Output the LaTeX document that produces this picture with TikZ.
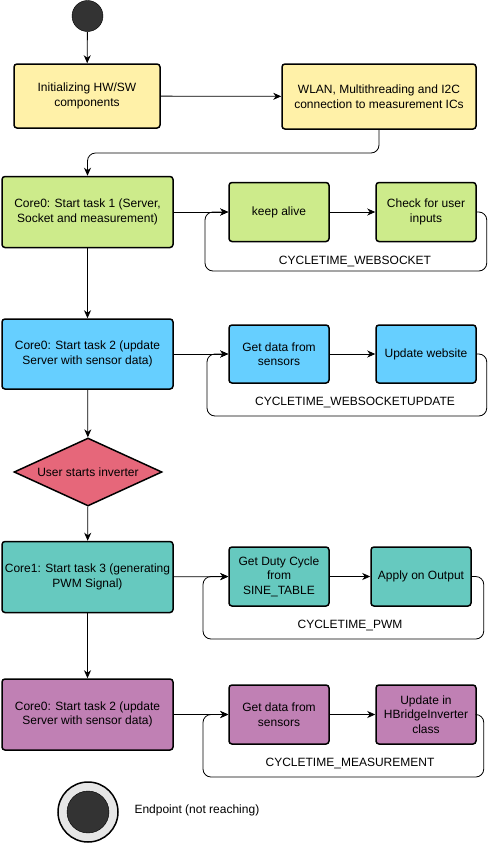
\documentclass[tikz,border=0pt]{standalone}
\usepackage{fontspec}
\setmainfont{Liberation Sans}
\usetikzlibrary{arrows.meta,shapes.geometric}
\definecolor{initcol}{HTML}{FFF1A8}
\definecolor{task1col}{HTML}{CDEB8B}
\definecolor{task2col}{HTML}{66CFFF}
\definecolor{usercol}{HTML}{E6677A}
\definecolor{task3col}{HTML}{66C9BF}
\definecolor{task4col}{HTML}{C080B4}
\definecolor{darkfill}{HTML}{333333}
\definecolor{lightfill}{HTML}{E6E6E6}

\begin{document}
\begin{tikzpicture}[x=1pt,y=-1pt,
  font=\fontsize{12}{14.5}\selectfont,
  box/.style={draw, line width=1.5pt, rounded corners=3pt, align=center, inner sep=0pt},
  bigbox/.style={box, minimum width=171pt, minimum height=71pt},
  smallbox/.style={box, minimum width=100pt, minimum height=59pt},
  arr/.style={-{Stealth[length=8pt,width=7pt,inset=2.5pt]}, line width=0.8pt},
  loopline/.style={arr, rounded corners=8pt}]
  \useasboundingbox (0,0) rectangle (495,844);
  % start and init
  \node[circle, fill=darkfill, draw=black, minimum size=31pt, inner sep=0pt] (start) at (87.5,16) {};
  \node[box, fill=initcol, minimum width=146pt, minimum height=64pt] (init) at (87,96) {Initializing HW/SW\\components};
  \node[box, fill=initcol, minimum width=194pt, minimum height=65pt] (wlan) at (379,96.5) {WLAN, Multithreading and I2C\\connection to measurement ICs};
  % task 1
  \node[bigbox, fill=task1col] (task1) at (87.5,212) {Core0: Start task 1 (Server,\\Socket and measurement)};
  \node[smallbox, fill=task1col] (alive) at (279,212) {keep alive};
  \node[smallbox, fill=task1col] (inputs) at (426,212) {Check for user\\inputs};
  \node (cyc1) at (355,261) {CYCLETIME\_WEBSOCKET};
  % task 2
  \node[bigbox, fill=task2col, minimum height=70pt] (task2) at (87.5,354) {Core0: Start task 2 (update\\Server with sensor data)};
  \node[smallbox, fill=task2col, minimum height=58pt] (sensors1) at (279,354) {Get data from\\sensors};
  \node[smallbox, fill=task2col, minimum height=58pt] (website) at (426,354) {Update website};
  \node (cyc2) at (355,402) {CYCLETIME\_WEBSOCKETUPDATE};
  % user decision
  \node[diamond, draw, line width=1.5pt, fill=usercol, aspect=2.2, inner sep=0pt,
        minimum width=148pt, minimum height=68pt] (user) at (88,472) {User starts inverter};
  % task 3
  \node[bigbox, fill=task3col] (task3) at (87.5,577) {Core1: Start task 3 (generating\\PWM Signal)};
  \node[smallbox, fill=task3col] (duty) at (279,576.5) {Get Duty Cycle\\from\\SINE\_TABLE};
  \node[smallbox, fill=task3col] (output) at (421,576.5) {Apply on Output};
  \node (cyc3) at (350,625) {CYCLETIME\_PWM};
  % task 4
  \node[bigbox, fill=task4col] (task4) at (87.5,714.5) {Core0: Start task 2 (update\\Server with sensor data)};
  \node[smallbox, fill=task4col] (sensors2) at (279,714.5) {Get data from\\sensors};
  \node[smallbox, fill=task4col] (hbridge) at (426,714.5) {Update in\\HBridgeInverter\\class};
  \node (cyc4) at (350,763) {CYCLETIME\_MEASUREMENT};
  % end point
  \node[circle, fill=lightfill, draw=black, line width=1.5pt, minimum size=60pt, inner sep=0pt] (stop) at (88,812) {};
  \node[circle, fill=darkfill, draw=black, minimum size=42pt, inner sep=0pt] at (stop) {};
  \node[anchor=west] (stoplabel) at (131,810) {Endpoint (not reaching)};
  % loop corners
  \coordinate (turn) at (233,153);
  \coordinate (l1) at (205,271);
  \coordinate (l2) at (207,416);
  \coordinate (l3) at (203,639);
  \coordinate (l4) at (203,777);
  % main flow
  \draw[arr] (start) -- (init);
  \draw[arr] (init) -- (wlan);
  \draw[arr, rounded corners=8pt] (wlan.south) |- (turn) -| (task1.north);
  \draw[arr] (task1) -- (task2);
  \draw[arr] (task2) -- (user);
  \draw[arr] (user) -- (task3);
  \draw[arr] (task3) -- (task4);
  % task loops
  \draw[arr] (task1) -- (alive);
  \draw[arr] (alive) -- (inputs);
  \draw[loopline] (inputs.east) -- ++(10,0) |- (l1) |- (alive.west);
  \draw[arr] (task2) -- (sensors1);
  \draw[arr] (sensors1) -- (website);
  \draw[loopline] (website.east) -- ++(10,0) |- (l2) |- (sensors1.west);
  \draw[arr] (task3) -- (duty);
  \draw[arr] (duty) -- (output);
  \draw[loopline] (output.east) -- ++(12,0) |- (l3) |- (duty.west);
  \draw[arr] (task4.east |- sensors2.west) -- (sensors2);
  \draw[arr] (sensors2) -- (hbridge);
  \draw[loopline] (hbridge.east) -- ++(7,0) |- (l4) |- (sensors2.west);
\end{tikzpicture}
\end{document}
